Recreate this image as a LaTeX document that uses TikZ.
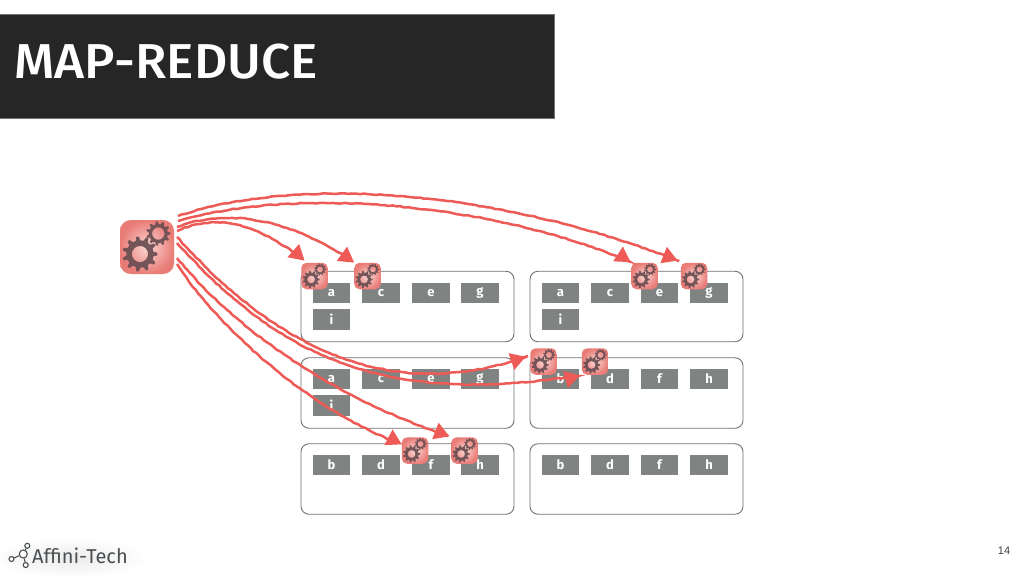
\documentclass[tikz,border=0pt]{standalone}
\usepackage{fontspec}
\setmainfont{Fira Sans}
\newfontfamily\numfont{Liberation Sans}
\newfontfamily\titlefont[FakeStretch=1.05]{Fira Sans Medium}
\usetikzlibrary{arrows.meta,decorations.pathmorphing}
\definecolor{barcol}{HTML}{262626}
\definecolor{cellcol}{HTML}{7F8482}
\definecolor{framecol}{HTML}{707070}
\definecolor{arrowcol}{HTML}{EE5A55}
\definecolor{gearcol}{HTML}{6A4E52}
\definecolor{logocol}{HTML}{4A4F52}
\definecolor{iconin}{HTML}{FBD8D4}
\definecolor{iconout}{HTML}{E97C77}
\tikzset{
	group/.style={draw=framecol,line width=0.9pt,rounded corners=8pt,fill=white,minimum width=213pt,minimum height=70.5pt,inner sep=0pt},
	cell/.style={fill=cellcol,text=white,minimum width=37.5pt,minimum height=20.5pt,inner sep=0pt,font=\fontsize{13}{13}\selectfont\bfseries},
	icon/.style={inner color=iconin,outer color=iconout,rounded corners=#1*0.2pt,minimum size=#1*1pt,inner sep=0pt},
	flow/.style={draw=arrowcol,line width=2.5pt,-{Triangle[length=15pt,width=17pt]},decorate,decoration={random steps,segment length=4pt,amplitude=0.5pt}},
	logoring/.style={circle,draw=logocol,line width=1.1pt,fill=white,inner sep=0pt,minimum size=#1*1pt},
}
% one gear: x, y, outer radius, hole radius, number of teeth
\newcommand{\gearwheel}[5]{
	\pgfmathsetmacro{\stepa}{360/#5}
	\pgfmathsetmacro{\stepb}{2*\stepa}
	\fill[gearcol,opacity=0.92,even odd rule,shift={(#1,#2)}] (-0.3*\stepa:#3*0.78)
		\foreach \a in {0,\stepa,...,359} { -- (\a-0.3*\stepa:#3*0.78) -- (\a-0.13*\stepa:#3) -- (\a+0.13*\stepa:#3) -- (\a+0.3*\stepa:#3*0.78) } -- cycle
		(0,0) circle (#4);
}
% name, x, y, size
\newcommand{\gearicon}[4]{
	\node[icon=#4] (#1) at (#2,#3) {};
	\gearwheel{#2-0.13*#4}{#3+0.13*#4}{0.325*#4}{0.15*#4}{11}
	\gearwheel{#2+0.21*#4}{#3-0.25*#4}{0.225*#4}{0.115*#4}{11}
}
\begin{document}
\begin{tikzpicture}[x=1pt,y=-1pt]
	\useasboundingbox (0,0) rectangle (1024,576);
	\fill[white] (0,0) rectangle (1024,576);

	% title
	\node[fill=barcol,draw=black!55,line width=0.5pt,minimum width=555pt,minimum height=104pt,inner sep=0pt] (bar) at (277,66) {};
	\node[text=white,anchor=west,inner sep=0pt,font=\titlefont\fontsize{49}{49}\selectfont] (title) at (14.5,62) {MAP-REDUCE};

	% frames
	\node[group] (left1) at (407.5,306.5) {};
	\node[group] (left2) at (407.5,393) {};
	\node[group] (left3) at (407.5,479) {};
	\node[group] (right1) at (636.5,306.5) {};
	\node[group] (right2) at (636.5,393) {};
	\node[group] (right3) at (636.5,479) {};

	% cells
	\foreach \lbl/\x in {a/331.5,c/381,e/431,g/480} {
		\node[cell] (l1\lbl) at (\x,293) {\lbl};
		\node[cell] (l2\lbl) at (\x,379) {\lbl};
	}
	\foreach \lbl/\x in {a/560.5,c/610,e/659.5,g/709}
		\node[cell] (r1\lbl) at (\x,293) {\lbl};
	\foreach \lbl/\x in {b/560.5,d/610,f/659.5,h/709} {
		\node[cell] (r2\lbl) at (\x,379) {\lbl};
		\node[cell] (r3\lbl) at (\x,465) {\lbl};
	}
	\foreach \lbl/\x in {b/331.5,d/381,f/431,h/480}
		\node[cell] (l3\lbl) at (\x,465) {\lbl};
	\node[cell] (l1i) at (331.5,319.5) {i};
	\node[cell] (l2i) at (331.5,405.5) {i};
	\node[cell] (r1i) at (560.5,319.5) {i};

	% gears
	\gearicon{master}{147}{247}{54}
	\gearicon{gear1}{314.5}{276}{26.5}
	\gearicon{gear2}{367.5}{276}{26.5}
	\gearicon{gear3}{644.5}{276}{26.5}
	\gearicon{gear4}{694}{276}{26.5}
	\gearicon{gear5}{543.5}{361.5}{26.5}
	\gearicon{gear6}{595}{361.5}{26.5}
	\gearicon{gear7}{415}{450.5}{26.5}
	\gearicon{gear8}{464.5}{450.5}{26.5}

	% start of each arrow
	\coordinate (out1) at (178,216);
	\coordinate (out2) at (178,221);
	\coordinate (out3) at (177,227);
	\coordinate (out4) at (177,231);
	\coordinate (out5) at (177,237);
	\coordinate (out6) at (177,243);
	\coordinate (out7) at (177,258);
	\coordinate (out8) at (177,264);

	% arrows
	\draw[flow,shorten >=6pt] (out1) .. controls (300,175) and (500,190) .. (gear4.130);
	\draw[flow,shorten >=1pt] (out2) .. controls (300,185) and (500,205) .. (gear3.north west);
	\draw[flow] (out3) .. controls (235,205) and (300,225) .. (gear2.north west);
	\draw[flow,shorten >=3pt] (out4) .. controls (220,212) and (260,225) .. (gear1.120);
	\draw[flow,shorten >=5pt] (out5) .. controls (265,335) and (380,410) .. (gear5.155);
	\draw[flow,shorten >=2pt] (out6) .. controls (270,345) and (370,410) .. (gear6.south west);
	\draw[flow,shorten >=2pt] (out7) .. controls (240,335) and (340,400) .. (gear8.north west);
	\draw[flow] (out8) .. controls (220,330) and (310,410) .. (gear7.155);

	% logo
	\shade[inner color=black!8,outer color=white] (70,558) ellipse (78 and 20);
	\node[logoring=5] (dot1) at (11.5,559) {};
	\node[logoring=8] (dot2) at (23.3,554) {};
	\node[logoring=5] (dot3) at (27.3,545.8) {};
	\node[logoring=5] (dot4) at (25.7,565) {};
	\draw[logocol,line width=1.1pt] (dot1) -- (dot2);
	\draw[logocol,line width=1.1pt] (dot2) -- (dot3);
	\draw[logocol,line width=1.1pt] (dot2) -- (dot4);
	\node[text=logocol,anchor=west,inner sep=0pt,font=\fontsize{20}{20}\selectfont] (brand) at (32,556) {Affini-Tech};

	% page number
	\node[text=black!75,inner sep=0pt,font=\numfont\fontsize{11}{11}\selectfont] (pagenum) at (1004,551) {14};
\end{tikzpicture}
\end{document}
